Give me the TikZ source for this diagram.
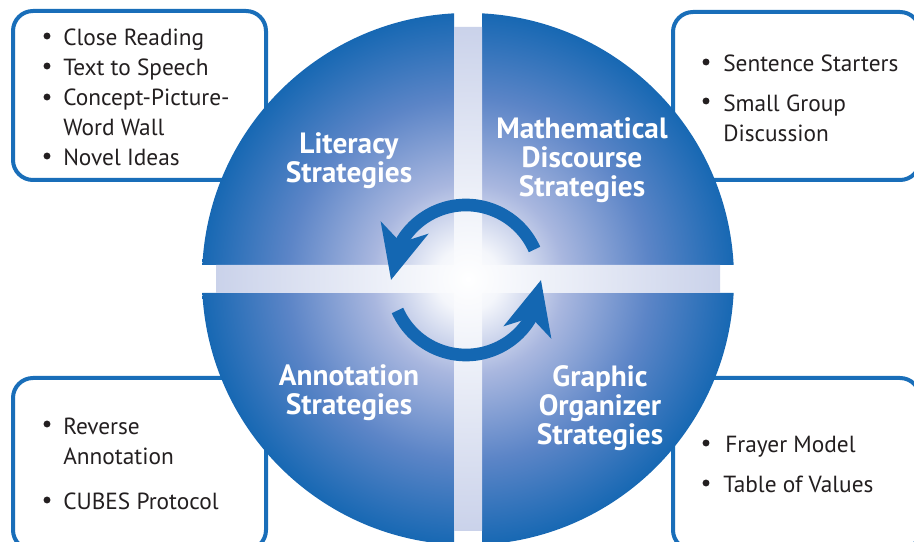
\documentclass[tikz,border=0pt]{standalone}
\usepackage{fontspec}
\setmainfont{PT Sans}
\usetikzlibrary{arrows.meta,bending}
\definecolor{edgeblue}{HTML}{1768B3}
\definecolor{midblue}{HTML}{5C85C7}
\definecolor{lav}{HTML}{A9B7DF}
\definecolor{core}{HTML}{F4F6FB}
\definecolor{bandend}{HTML}{CAD2EA}
\definecolor{boxblue}{HTML}{196EB9}
\definecolor{arrowblue}{HTML}{1467B2}
\definecolor{txt}{HTML}{231F20}
\pgfdeclareradialshading{disc}{\pgfpoint{0bp}{0bp}}{color(0bp)=(white); color(3bp)=(core); color(9bp)=(lav); color(17bp)=(midblue); color(25bp)=(edgeblue); color(50bp)=(edgeblue)}
\pgfdeclareradialshading{band}{\pgfpoint{0bp}{0bp}}{color(0bp)=(white); color(5bp)=(core); color(25bp)=(bandend); color(50bp)=(bandend)}
\begin{document}
\begin{tikzpicture}[x=0.75pt,y=0.75pt,
  infobox/.style={draw=boxblue, line width=3pt, rounded corners=15pt, fill=white},
  item/.style={anchor=base west, text=txt, font=\fontsize{17.5}{22.5}\selectfont, align=left, inner sep=0pt},
  dot/.style={circle, fill=txt, inner sep=0pt, minimum size=5.2pt},
  title/.style={anchor=base, text=white, font=\bfseries\fontsize{22}{21.75}\selectfont, align=center, inner sep=0pt},
  cyc/.style={draw=arrowblue, line width=9.5pt, -{Stealth[length=40pt,width=36pt,inset=11pt,flex]}}]
\useasboundingbox (0,0) rectangle (914,542);
% boxes
\draw[infobox] (13,362) rectangle (266,531);
\draw[infobox] (673,362) rectangle (920,530);
\draw[infobox] (13,-8) rectangle (266,164);
\draw[infobox] (673,-8) rectangle (920,164);
% disc quadrants
\coordinate (c) at (468,263);
\begin{scope}
\clip (190,277) rectangle (454,560) (482,277) rectangle (760,560)
      (190,-20) rectangle (454,249) (482,-20) rectangle (760,249);
\shade[shading=disc] (c) circle (266);
\end{scope}
% light cross
\shade[shading=band] (454,11) rectangle (482,515) (216,249) rectangle (720,277);
% titles (anchored at the baseline of the last line)
\node[title] (lit) at (349,359) {Literacy\\Strategies};
\node[title] (math) at (582,345) {Mathematical\\Discourse\\Strategies};
\node[title] (ann) at (349,127) {Annotation\\Strategies};
\node[title] (graph) at (600,97) {Graphic\\Organizer\\Strategies};
% cycle arrows
\coordinate (ac) at (466,262);
\draw[cyc] ([shift={(24:75)}]ac) arc[start angle=24, end angle=180, radius=75];
\draw[cyc] ([shift={(204:75)}]ac) arc[start angle=204, end angle=360, radius=75];
% top-left items
\node[dot] (d1) at (47,506) {};
\node[item] (t1) at (63,496) {Close Reading};
\node[dot] (d2) at (47,476) {};
\node[item] (t2) at (63,466) {Text to Speech};
\node[dot] (d3) at (47,445) {};
\node[item] (t3) at (63,406) {Concept-Picture-\\Word Wall};
\node[dot] (d4) at (47,386) {};
\node[item] (t4) at (63,376) {Novel Ideas};
% top-right items
\node[dot] (d5) at (706,480) {};
\node[item] (t5) at (723,470) {Sentence Starters};
\node[dot] (d6) at (706,441) {};
\node[item] (t6) at (723,400) {Small Group\\Discussion};
% bottom-left items
\node[dot] (d7) at (47,118) {};
\node[item] (t7) at (63,77) {Reverse\\Annotation};
\node[dot] (d8) at (47,42) {};
\node[item] (t8) at (63,32) {CUBES Protocol};
% bottom-right items
\node[dot] (d9) at (706,99) {};
\node[item] (t9) at (725,89) {Frayer Model};
\node[dot] (d10) at (706,59) {};
\node[item] (t10) at (723,49) {Table of Values};
\end{tikzpicture}
\end{document}
